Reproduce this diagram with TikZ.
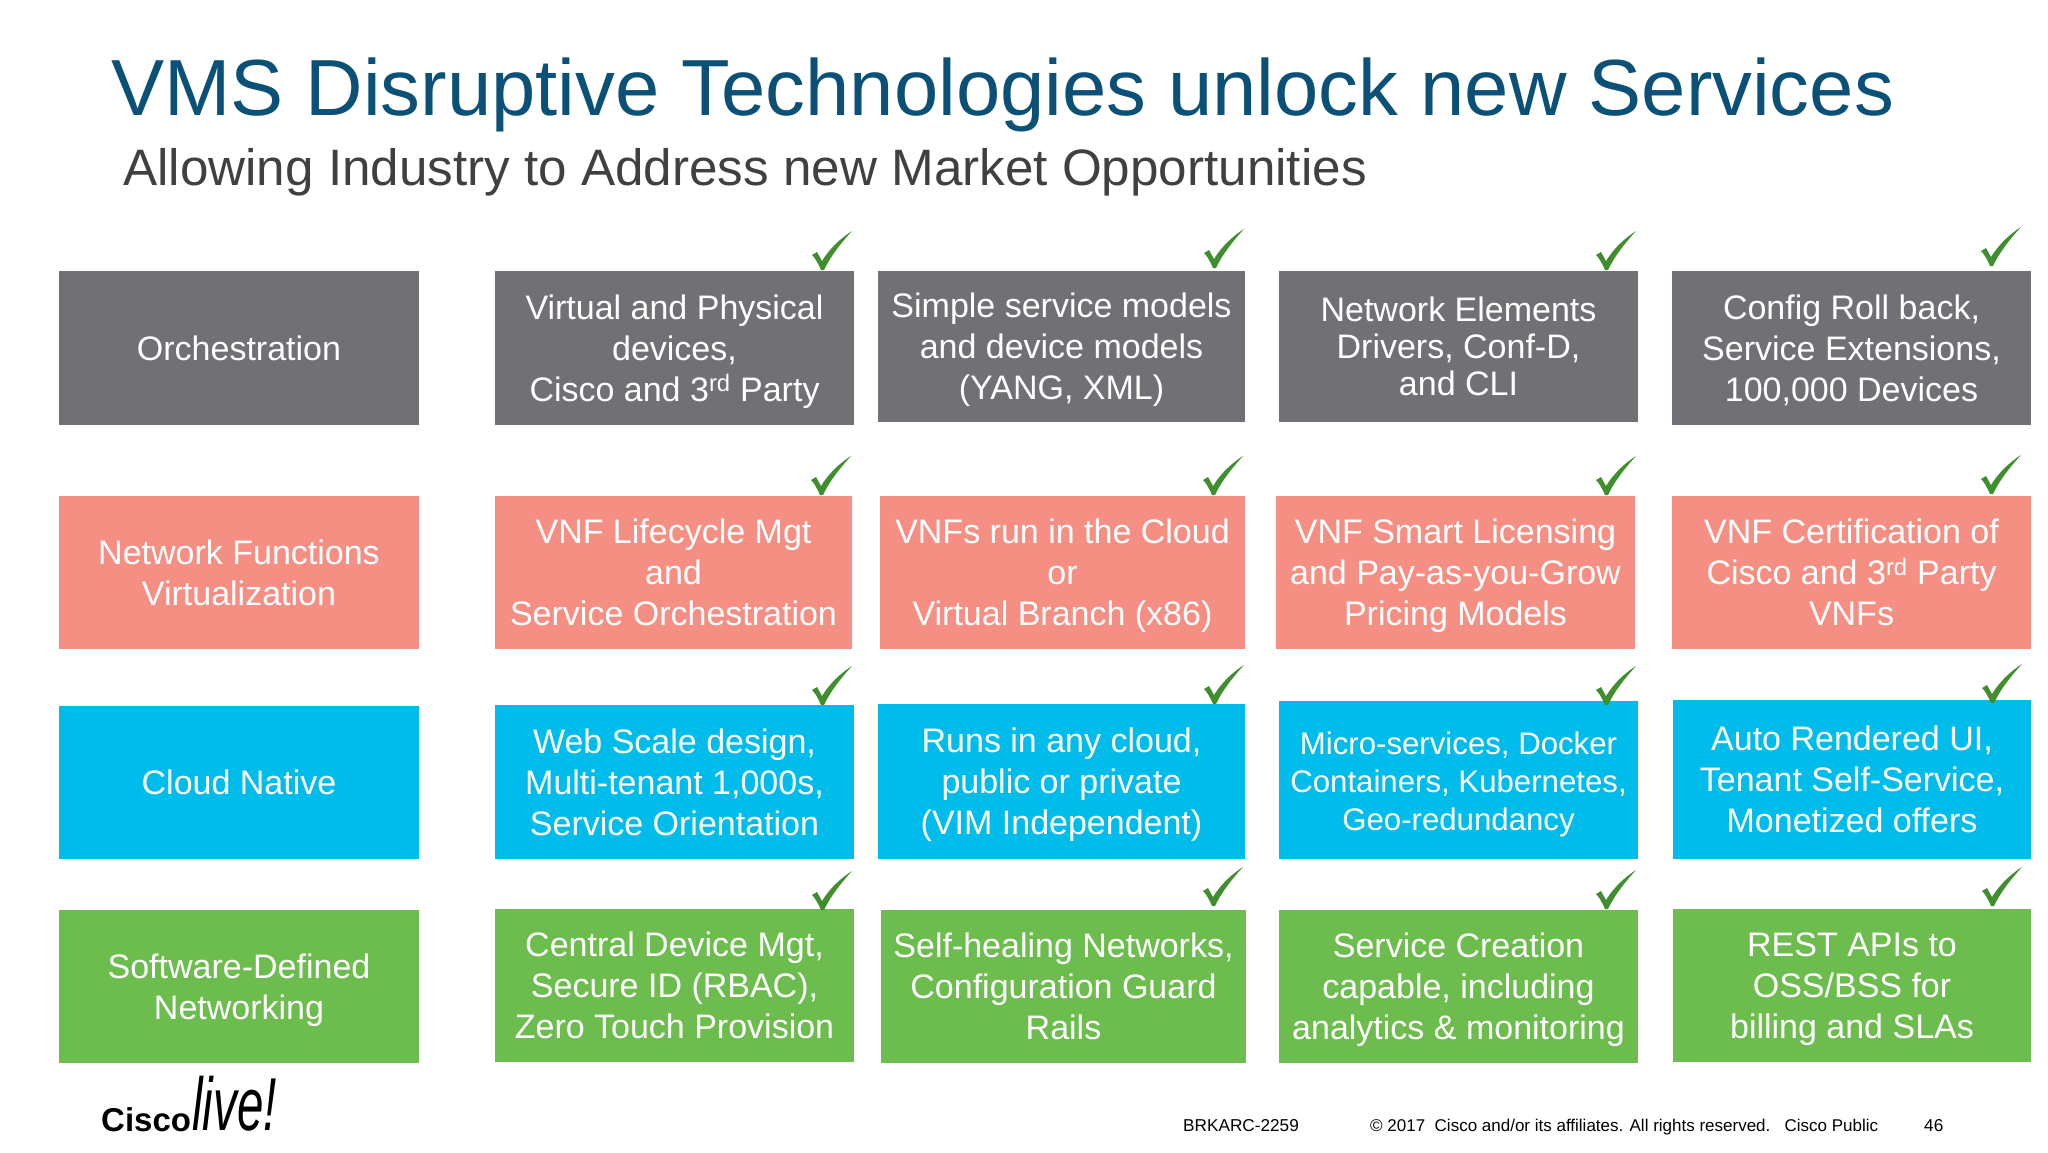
\documentclass[tikz,border=0pt]{standalone}
\usepackage{fontspec}
\setmainfont{Liberation Sans}
\definecolor{titleblue}{HTML}{0B5177}
\definecolor{subgray}{HTML}{404040}
\definecolor{orchgray}{HTML}{717074}
\definecolor{nfvpink}{HTML}{F58F84}
\definecolor{cloudblue}{HTML}{00BCEB}
\definecolor{sdngreen}{HTML}{6CBD4E}
\definecolor{tickgreen}{HTML}{3F8F2F}
\tikzset{
    cell/.style={anchor=center,inner sep=0pt,text=white,align=center,
        font=\fontsize{34}{41}\selectfont,text height=112pt,text depth=6pt},
    cell two/.style={cell,text height=71pt},
    cell one/.style={cell,text height=30pt},
    checkmark/.pic={
        \fill[tickgreen] (0,0) .. controls (-3,-7) and (-6,-12) .. (-9,-15)
            -- (-4,-18) -- (1,-9) .. controls (9,-22) and (20,-32) .. (31,-39)
            .. controls (20,-27) and (9,-13) .. (3,0) -- cycle;
    }
}
\begin{document}
\begin{tikzpicture}[x=1pt,y=-1pt]
        \useasboundingbox (0,0) rectangle (2048,1152);
        %% NOTE: heading
        \node[anchor=base west,inner sep=0pt,text=titleblue,font=\fontsize{79.6}{90}\selectfont] (title) at (111,115) {VMS Disruptive Technologies unlock new Services};
        \node[anchor=base west,inner sep=0pt,text=subgray,font=\fontsize{51.2}{60}\selectfont] (subtitle) at (123,185) {Allowing Industry to Address new Market Opportunities};
        %% orchestration row
        \node[cell one,fill=orchgray,minimum width=360pt,minimum height=154pt] (orchA) at (239,348) {Orchestration};
        \node[cell,fill=orchgray,minimum width=359pt,minimum height=154pt] (orchB) at (674.5,348) {Virtual and Physical\\devices,\\Cisco and 3\textsuperscript{rd} Party};
        \node[cell,fill=orchgray,minimum width=367pt,minimum height=151pt] (orchC) at (1061.5,346.5) {Simple service models\\and device models\\(YANG, XML)};
        \node[cell,fill=orchgray,minimum width=359pt,minimum height=151pt,font=\fontsize{34}{37}\selectfont,text height=104pt] (orchD) at (1458.5,346.5) {Network Elements\\Drivers, Conf-D,\\and CLI};
        \node[cell,fill=orchgray,minimum width=359pt,minimum height=154pt] (orchE) at (1851.5,348) {Config Roll back,\\Service Extensions,\\100,000 Devices};
        %% nfv row
        \node[cell two,fill=nfvpink,minimum width=360pt,minimum height=153pt] (nfvA) at (239,572.5) {Network Functions\\Virtualization};
        \node[cell,fill=nfvpink,minimum width=357pt,minimum height=153pt] (nfvB) at (673.5,572.5) {VNF Lifecycle Mgt\\and\\Service Orchestration};
        \node[cell,fill=nfvpink,minimum width=365pt,minimum height=153pt] (nfvC) at (1062.5,572.5) {VNFs run in the Cloud\\or\\Virtual Branch (x86)};
        \node[cell,fill=nfvpink,minimum width=359pt,minimum height=153pt] (nfvD) at (1455.5,572.5) {VNF Smart Licensing\\and Pay-as-you-Grow\\Pricing Models};
        \node[cell,fill=nfvpink,minimum width=359pt,minimum height=153pt] (nfvE) at (1851.5,572.5) {VNF Certification of\\Cisco and 3\textsuperscript{rd} Party\\VNFs};
        %% cloud row
        \node[cell one,fill=cloudblue,minimum width=360pt,minimum height=153pt] (cloudA) at (239,782.5) {Cloud Native};
        \node[cell,fill=cloudblue,minimum width=359pt,minimum height=154pt] (cloudB) at (674.5,782) {Web Scale design,\\Multi-tenant 1,000s,\\Service Orientation};
        \node[cell,fill=cloudblue,minimum width=367pt,minimum height=155pt] (cloudC) at (1061.5,781.5) {Runs in any cloud,\\public or private\\(VIM Independent)};
        \node[cell,fill=cloudblue,minimum width=359pt,minimum height=158pt,font=\fontsize{31.2}{38}\selectfont,text height=106pt] (cloudD) at (1458.5,780) {Micro-services, Docker\\Containers, Kubernetes,\\Geo-redundancy};
        \node[cell,fill=cloudblue,minimum width=358pt,minimum height=159pt] (cloudE) at (1852,779.5) {Auto Rendered UI,\\Tenant Self-Service,\\Monetized offers};
        %% sdn row
        \node[cell two,fill=sdngreen,minimum width=360pt,minimum height=153pt] (sdnA) at (239,986.5) {Software-Defined\\Networking};
        \node[cell,fill=sdngreen,minimum width=359pt,minimum height=153pt] (sdnB) at (674.5,985.5) {Central Device Mgt,\\Secure ID (RBAC),\\Zero Touch Provision};
        \node[cell,fill=sdngreen,minimum width=365pt,minimum height=153pt] (sdnC) at (1063.5,986.5) {Self-healing Networks,\\Configuration Guard\\Rails};
        \node[cell,fill=sdngreen,minimum width=359pt,minimum height=153pt] (sdnD) at (1458.5,986.5) {Service Creation\\capable, including\\analytics \& monitoring};
        \node[cell,fill=sdngreen,minimum width=358pt,minimum height=153pt] (sdnE) at (1852,985.5) {REST APIs to\\OSS/BSS for\\billing and SLAs};
        %% ticks
        \foreach \tx/\ty in {821/270,1213/268,1605/270,1990/266,
                             820/495,1212/495,1605/495,1990/494,
                             821/705,1213/704,1605/705,1991/703,
                             821/910,1212/906,1605/909,1991/906}
            \pic at (\tx,\ty) {checkmark};
        %% logo
        \node[anchor=base west,inner sep=0pt,font=\fontsize{33}{40}\selectfont\bfseries] (logoCisco) at (101,1131) {Cisco};
        \node[anchor=base west,inner sep=0pt,xscale=0.95,yscale=1.5,font=\fontsize{50}{50}\selectfont\itshape] (logoLive) at (192,1130) {live!};
        %% footer
        \node[anchor=base west,inner sep=0pt,font=\fontsize{17.2}{20}\selectfont] (footCode) at (1183,1131) {BRKARC-2259};
        \node[anchor=base west,inner sep=0pt,font=\fontsize{17}{20}\selectfont] (footCopy) at (1370,1131) {© 2017\ \ Cisco and/or its affiliates. All rights reserved.\ \ \ Cisco Public};
        \node[anchor=base west,inner sep=0pt,font=\fontsize{17.2}{20}\selectfont] (footPage) at (1924,1131) {46};
    \end{tikzpicture}
\end{document}
